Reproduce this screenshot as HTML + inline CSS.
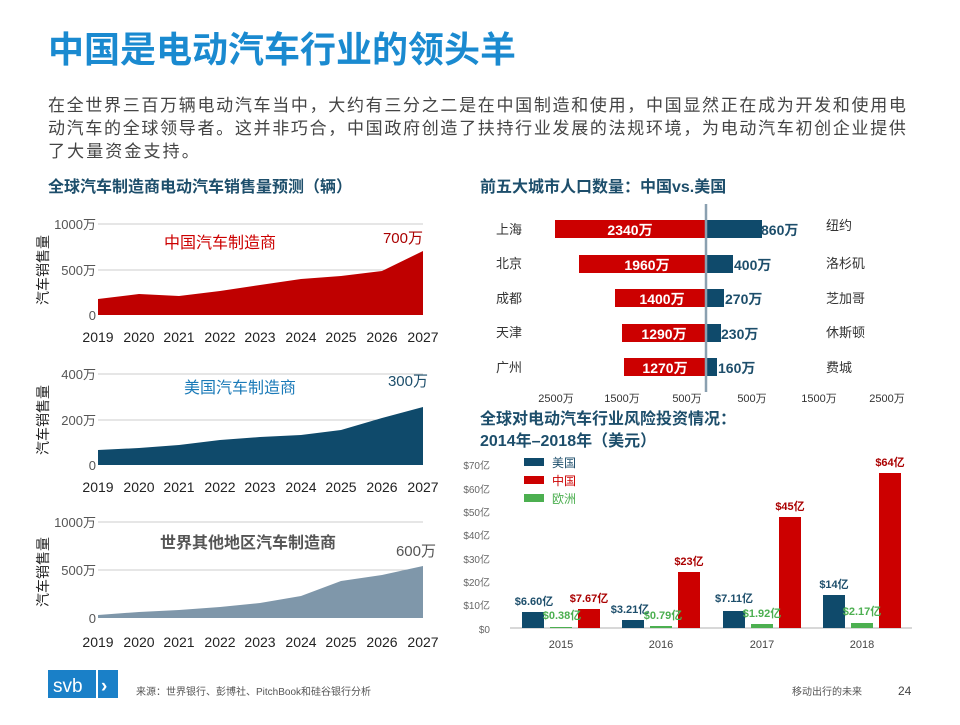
<!DOCTYPE html>
<html><head><meta charset="utf-8"><style>
body{margin:0;width:960px;height:720px;background:#fff;overflow:hidden;font-family:"Liberation Sans","Noto Sans CJK SC",sans-serif}
svg text{font-family:"Liberation Sans","Noto Sans CJK SC",sans-serif}
</style></head><body>
<svg width="960" height="720" viewBox="0 0 960 720" xmlns="http://www.w3.org/2000/svg">
<text x="48" y="62" font-size="36" font-weight="bold" fill="#1a8ad0">中国是电动汽车行业的领头羊</text>
<g font-size="17" fill="#444" letter-spacing="2.1">
<text x="48" y="111" textLength="860" lengthAdjust="spacing">在全世界三百万辆电动汽车当中，大约有三分之二是在中国制造和使用，中国显然正在成为开发和使用电</text>
<text x="48" y="134" textLength="860" lengthAdjust="spacing">动汽车的全球领导者。这并非巧合，中国政府创造了扶持行业发展的法规环境，为电动汽车初创企业提供</text>
<text x="48" y="157">了大量资金支持。</text>
</g>
<text x="48" y="192" font-size="16" font-weight="bold" fill="#1d4e6b">全球汽车制造商电动汽车销售量预测（辆）</text>
<text x="480" y="192" font-size="16" font-weight="bold" fill="#1d4e6b">前五大城市人口数量：中国vs.美国</text>

<!-- chart 1 -->
<g font-size="13" fill="#333">
<line x1="98" y1="224" x2="423" y2="224" stroke="#ccc"/>
<line x1="98" y1="270" x2="423" y2="270" stroke="#ccc"/>
<text x="96" y="229" text-anchor="end" fill="#555">1000万</text>
<text x="96" y="275" text-anchor="end" fill="#555">500万</text>
<text x="96" y="320" text-anchor="end" fill="#555">0</text>
<polygon fill="#bf0000" points="98,315 98,299 139,294 179,296 220,291 260,285 301,279 341,276 382,271 423,251 423,315"/>
<text x="220" y="248" text-anchor="middle" font-size="16" fill="#c00">中国汽车制造商</text>
<text x="423" y="243" text-anchor="end" font-size="15" fill="#a00">700万</text>
<text x="48" y="270" transform="rotate(-90 48 270)" text-anchor="middle" font-size="14" fill="#222">汽车销售量</text>
</g>
<g font-size="14" fill="#222" text-anchor="middle" font-family="Liberation Serif">
<text x="98" y="342">2019</text><text x="139" y="342">2020</text><text x="179" y="342">2021</text><text x="220" y="342">2022</text><text x="260" y="342">2023</text><text x="301" y="342">2024</text><text x="341" y="342">2025</text><text x="382" y="342">2026</text><text x="423" y="342">2027</text>
</g>

<!-- chart 2 -->
<g font-size="13" fill="#555">
<line x1="98" y1="374" x2="423" y2="374" stroke="#ccc"/>
<line x1="98" y1="420" x2="423" y2="420" stroke="#ccc"/>
<text x="96" y="379" text-anchor="end">400万</text>
<text x="96" y="425" text-anchor="end">200万</text>
<text x="96" y="470" text-anchor="end">0</text>
<polygon fill="#0f4a6b" points="98,465 98,450 139,448 179,445 220,440 260,437 301,435 341,430 382,418 423,407 423,465"/>
<text x="240" y="393" text-anchor="middle" font-size="16" fill="#1a7ab8">美国汽车制造商</text>
<text x="428" y="386" text-anchor="end" font-size="15" fill="#1d4e6b">300万</text>
<text x="48" y="420" transform="rotate(-90 48 420)" text-anchor="middle" font-size="14" fill="#222">汽车销售量</text>
</g>
<g font-size="14" fill="#222" text-anchor="middle" font-family="Liberation Serif">
<text x="98" y="492">2019</text><text x="139" y="492">2020</text><text x="179" y="492">2021</text><text x="220" y="492">2022</text><text x="260" y="492">2023</text><text x="301" y="492">2024</text><text x="341" y="492">2025</text><text x="382" y="492">2026</text><text x="423" y="492">2027</text>
</g>

<!-- chart 3 -->
<g font-size="13" fill="#555">
<line x1="98" y1="522" x2="423" y2="522" stroke="#ccc"/>
<line x1="98" y1="570" x2="423" y2="570" stroke="#ccc"/>
<text x="96" y="527" text-anchor="end">1000万</text>
<text x="96" y="575" text-anchor="end">500万</text>
<text x="96" y="623" text-anchor="end">0</text>
<polygon fill="#7f97aa" points="98,618 98,615 139,612 179,610 220,607 260,603 301,596 341,581 382,575 423,566 423,618"/>
<text x="248" y="548" text-anchor="middle" font-size="16" font-weight="bold" fill="#555">世界其他地区汽车制造商</text>
<text x="436" y="556" text-anchor="end" font-size="15" fill="#555">600万</text>
<text x="48" y="572" transform="rotate(-90 48 572)" text-anchor="middle" font-size="14" fill="#222">汽车销售量</text>
</g>
<g font-size="14" fill="#222" text-anchor="middle" font-family="Liberation Serif">
<text x="98" y="647">2019</text><text x="139" y="647">2020</text><text x="179" y="647">2021</text><text x="220" y="647">2022</text><text x="260" y="647">2023</text><text x="301" y="647">2024</text><text x="341" y="647">2025</text><text x="382" y="647">2026</text><text x="423" y="647">2027</text>
</g>

<!-- population bars -->
<g>
<rect x="555" y="220" width="151" height="18" fill="#c00"/><rect x="706" y="220" width="56" height="18" fill="#0f4a6b"/>
<rect x="579" y="255" width="127" height="18" fill="#c00"/><rect x="706" y="255" width="27" height="18" fill="#0f4a6b"/>
<rect x="615" y="289" width="91" height="18" fill="#c00"/><rect x="706" y="289" width="18" height="18" fill="#0f4a6b"/>
<rect x="622" y="324" width="84" height="18" fill="#c00"/><rect x="706" y="324" width="15" height="18" fill="#0f4a6b"/>
<rect x="624" y="358" width="82" height="18" fill="#c00"/><rect x="706" y="358" width="11" height="18" fill="#0f4a6b"/>
<line x1="706" y1="204" x2="706" y2="392" stroke="#8aa0b0" stroke-width="2.5"/>
<g font-size="14" font-weight="bold" fill="#fff" text-anchor="middle">
<text x="630" y="235">2340万</text><text x="647" y="270">1960万</text><text x="662" y="304">1400万</text><text x="664" y="339">1290万</text><text x="665" y="373">1270万</text>
</g>
<g font-size="14" font-weight="bold" fill="#1d4e6b">
<text x="761" y="235">860万</text><text x="734" y="270">400万</text><text x="725" y="304">270万</text><text x="721" y="339">230万</text><text x="718" y="373">160万</text>
</g>
<g font-size="13" fill="#333">
<text x="496" y="234">上海</text><text x="496" y="268">北京</text><text x="496" y="303">成都</text><text x="496" y="337">天津</text><text x="496" y="372">广州</text>
<text x="826" y="230">纽约</text><text x="826" y="268">洛杉矶</text><text x="826" y="303">芝加哥</text><text x="826" y="337">休斯顿</text><text x="826" y="372">费城</text>
</g>
<g font-size="11" fill="#333" text-anchor="middle">
<text x="556" y="402">2500万</text><text x="622" y="402">1500万</text><text x="687" y="402">500万</text><text x="752" y="402">500万</text><text x="819" y="402">1500万</text><text x="887" y="402">2500万</text>
</g>
</g>

<!-- VC chart -->
<text x="480" y="424" font-size="16" font-weight="bold" fill="#1d4e6b">全球对电动汽车行业风险投资情况：</text>
<text x="480" y="446" font-size="16" font-weight="bold" fill="#1d4e6b">2014年–2018年（美元）</text>
<g font-size="10" fill="#666" text-anchor="end">
<text x="490" y="469">$70亿</text><text x="490" y="493">$60亿</text><text x="490" y="516">$50亿</text><text x="490" y="539">$40亿</text><text x="490" y="563">$30亿</text><text x="490" y="586">$20亿</text><text x="490" y="609">$10亿</text><text x="490" y="633">$0</text>
</g>
<line x1="510" y1="628" x2="912" y2="628" stroke="#ccc" stroke-width="1.5"/>
<rect x="524" y="458" width="20" height="8" fill="#0f4a6b"/><text x="552" y="467" font-size="12" fill="#1d4e6b">美国</text>
<rect x="524" y="476" width="20" height="8" fill="#c00"/><text x="552" y="485" font-size="12" fill="#c00">中国</text>
<rect x="524" y="494" width="20" height="8" fill="#4caf50"/><text x="552" y="503" font-size="12" fill="#4caf50">欧洲</text>
<g>
<rect x="522" y="612" width="22" height="16" fill="#0f4a6b"/><rect x="550" y="627" width="22" height="1" fill="#4caf50"/><rect x="578" y="609" width="22" height="19" fill="#c00"/>
<rect x="622" y="620" width="22" height="8" fill="#0f4a6b"/><rect x="650" y="626" width="22" height="2" fill="#4caf50"/><rect x="678" y="572" width="22" height="56" fill="#c00"/>
<rect x="723" y="611" width="22" height="17" fill="#0f4a6b"/><rect x="751" y="624" width="22" height="4" fill="#4caf50"/><rect x="779" y="517" width="22" height="111" fill="#c00"/>
<rect x="823" y="595" width="22" height="33" fill="#0f4a6b"/><rect x="851" y="623" width="22" height="5" fill="#4caf50"/><rect x="879" y="473" width="22" height="155" fill="#c00"/>
</g>
<g font-size="11" font-weight="bold" text-anchor="middle">
<text x="534" y="605" fill="#1d4e6b">$6.60亿</text><text x="589" y="602" fill="#a00">$7.67亿</text><text x="562" y="619" fill="#4caf50">$0.38亿</text>
<text x="630" y="613" fill="#1d4e6b">$3.21亿</text><text x="663" y="619" fill="#4caf50">$0.79亿</text><text x="689" y="565" fill="#a00">$23亿</text>
<text x="734" y="602" fill="#1d4e6b">$7.11亿</text><text x="762" y="617" fill="#4caf50">$1.92亿</text><text x="790" y="510" fill="#a00">$45亿</text>
<text x="834" y="588" fill="#1d4e6b">$14亿</text><text x="862" y="615" fill="#4caf50">$2.17亿</text><text x="890" y="466" fill="#a00">$64亿</text>
</g>
<g font-size="11" fill="#444" text-anchor="middle">
<text x="561" y="648">2015</text><text x="661" y="648">2016</text><text x="762" y="648">2017</text><text x="862" y="648">2018</text>
</g>

<!-- footer -->
<rect x="48" y="670" width="70" height="28" fill="#1a80c8"/>
<rect x="96" y="670" width="2" height="28" fill="#fff"/>
<text x="53" y="692" font-size="19" fill="#fff">svb</text>
<text x="101" y="692" font-size="19" font-weight="bold" fill="#fff">›</text>
<text x="136" y="695" font-size="10" fill="#555">来源：世界银行、彭博社、PitchBook和硅谷银行分析</text>
<text x="792" y="695" font-size="10" fill="#555">移动出行的未来</text>
<text x="898" y="695" font-size="12" fill="#444">24</text>
</svg>
</body></html>
